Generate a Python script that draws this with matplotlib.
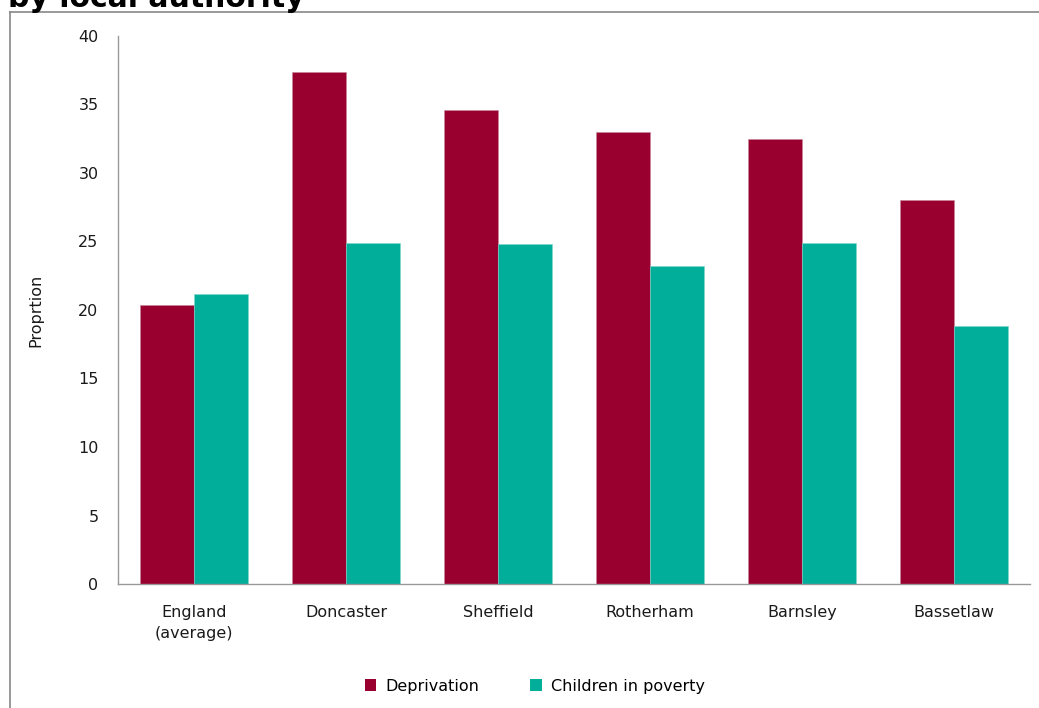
import matplotlib
matplotlib.use("Agg")
import matplotlib.pyplot as plt
from matplotlib.lines import Line2D
from matplotlib.patches import Patch
import numpy as np

categories = ["England\n(average)", "Doncaster", "Sheffield", "Rotherham", "Barnsley", "Bassetlaw"]
deprivation = [20.4, 37.4, 34.6, 33.0, 32.5, 28.0]
children_in_poverty = [21.2, 24.9, 24.8, 23.2, 24.9, 18.8]
series_names = ["Deprivation", "Children in poverty"]
colors = ["#990030", "#00AE9A"]
yticks = [0, 5, 10, 15, 20, 25, 30, 35, 40]

W, H = 1039, 708
fig = plt.figure(figsize=(W / 100, H / 100), dpi=100)
fig.patch.set_facecolor("white")

def fx(px):
    return px / W

def fy(py):
    return 1 - py / H

FS = 11.5
TC = "#1a1a1a"

ax = fig.add_axes([fx(118), fy(584), fx(1030) - fx(118), fy(36) - fy(584)])
x = np.arange(len(categories))
bw = 54 / 152
ax.bar(x - bw / 2, deprivation, width=bw, color=colors[0], edgecolor="#c8889c", linewidth=0.4, label=series_names[0])
ax.bar(x + bw / 2, children_in_poverty, width=bw, color=colors[1], edgecolor="#7fd6cc", linewidth=0.4, label=series_names[1])
ax.set_xlim(-0.5, len(categories) - 0.5)
ax.set_ylim(0, 40)
ax.set_yticks(yticks)
ax.set_yticklabels([str(v) for v in yticks], fontsize=FS, color=TC)
ax.set_xticks(x)
ax.set_xticklabels(categories, fontsize=FS, color=TC, linespacing=1.55)
ax.tick_params(axis="y", length=0, pad=14)
ax.tick_params(axis="x", length=0, pad=15)
for s in ["top", "right"]:
    ax.spines[s].set_visible(False)
for s in ["left", "bottom"]:
    ax.spines[s].set_color("#999999")
    ax.spines[s].set_linewidth(1.0)
ax.set_ylabel("Proprtion", fontsize=FS, color=TC, labelpad=25)

handles = [Patch(facecolor=colors[0], edgecolor="none"), Patch(facecolor=colors[1], edgecolor="none")]
fig.legend(handles, series_names, loc="center", bbox_to_anchor=(fx(535), fy(686)), ncol=2, frameon=False,
           fontsize=FS, handlelength=0.7, handleheight=0.7, handletextpad=0.6, columnspacing=3.2)

# outer frame (cropped)
fig.add_artist(Line2D([fx(10), fx(10)], [0, fy(12)], color="#888888", linewidth=1.2, transform=fig.transFigure))
fig.add_artist(Line2D([fx(10), 1], [fy(12), fy(12)], color="#888888", linewidth=1.2, transform=fig.transFigure))

# title, cropped at the top edge as in the reference
fig.text(fx(8), fy(7), "by local authority", fontsize=21.5, fontweight="bold", color="black",
         ha="left", va="baseline")

fig.savefig("out.png", dpi=100, facecolor="white")
